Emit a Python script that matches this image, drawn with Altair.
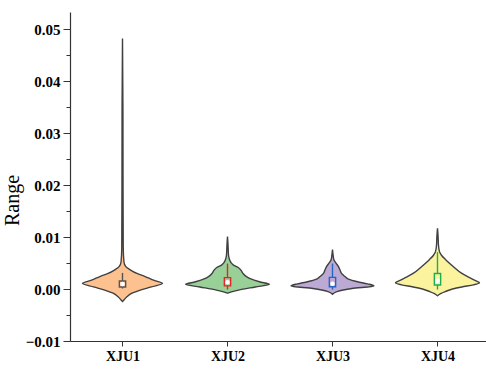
import altair as alt
import pandas as pd

categories = ["XJU1", "XJU2", "XJU3", "XJU4"]
violin_fill = ["#fdc08f", "#98d097", "#bcaad4", "#fbf39e"]
box_stroke = ["#555555", "#e0262a", "#2366c4", "#1fae4f"]

# violin outlines: value levels and half widths (in category units)
xju1_values = [-0.0024, -0.0021, -0.0015, -0.0008, -0.0002, 0.0004, 0.0011, 0.0017, 0.0024,
               0.0030, 0.0037, 0.0043, 0.0052, 0.0080, 0.0200, 0.0350, 0.0482]
xju1_width = [0.0, 0.014, 0.042, 0.090, 0.169, 0.276, 0.381, 0.295, 0.216,
              0.137, 0.073, 0.032, 0.014, 0.007, 0.005, 0.004, 0.0]

xju2_values = [-0.0008, -0.0006, -0.0002, 0.0004, 0.0009, 0.0014, 0.0019, 0.0024, 0.0030,
               0.0036, 0.0041, 0.0046, 0.0051, 0.0057, 0.0065, 0.0085, 0.0101]
xju2_width = [0.0, 0.029, 0.105, 0.264, 0.400, 0.305, 0.229, 0.181, 0.148,
              0.129, 0.105, 0.057, 0.033, 0.019, 0.010, 0.005, 0.0]

xju3_values = [-0.0010, -0.0005, 0.0001, 0.0006, 0.0010, 0.0014, 0.0019, 0.0024, 0.0030,
               0.0037, 0.0043, 0.0050, 0.0056, 0.0065, 0.0076]
xju3_width = [0.0, 0.042, 0.185, 0.395, 0.333, 0.238, 0.152, 0.119, 0.086,
              0.071, 0.057, 0.033, 0.014, 0.006, 0.0]

xju4_values = [-0.0013, -0.0009, -0.0005, 0.0000, 0.0004, 0.0008, 0.0012, 0.0016, 0.0021,
               0.0030, 0.0043, 0.0056, 0.0065, 0.0072, 0.0085, 0.0100, 0.0117]
xju4_width = [0.0, 0.029, 0.073, 0.143, 0.232, 0.343, 0.400, 0.362, 0.314,
              0.232, 0.152, 0.080, 0.038, 0.019, 0.009, 0.006, 0.0]

# box plot statistics
whisker_low = [0.0001, -0.0001, -0.0001, -0.0001]
q1 = [0.0004, 0.0006, 0.00044, 0.00077]
median = [0.00096, 0.0013, 0.0010, 0.0016]
q3 = [0.00154, 0.0022, 0.00225, 0.0030]
whisker_high = [0.0031, 0.0049, 0.0049, 0.0071]

y_ticks = [-0.01, -0.005, 0.0, 0.005, 0.01, 0.015, 0.02, 0.025, 0.03, 0.035, 0.04, 0.045, 0.05]
x_ticks = [1, 2, 3, 4]

rows = []
for i, (vals, wids) in enumerate([(xju1_values, xju1_width), (xju2_values, xju2_width),
                                  (xju3_values, xju3_width), (xju4_values, xju4_width)]):
    for v, w in zip(vals, wids):
        rows.append({"cat": categories[i], "idx": i + 1, "value": v, "hw": w})
violin_df = pd.DataFrame(rows)

box_df = pd.DataFrame({
    "cat": categories, "idx": [1, 2, 3, 4],
    "wlo": whisker_low, "q1": q1, "med": median, "q3": q3, "whi": whisker_high,
})

FONT = "Times New Roman, Liberation Serif, serif"
x_scale = alt.Scale(domain=[0.5, 4.462], nice=False, zero=False)
y_scale = alt.Scale(domain=[-0.01, 0.0533], nice=False, zero=False)
fill_scale = alt.Scale(domain=categories, range=violin_fill)
stroke_scale = alt.Scale(domain=categories, range=box_stroke)

minor_test = "abs(round(datum.value*1000)) % 10 == 5"

y_axis = alt.Axis(
    values=y_ticks,
    labelExpr=f"{minor_test} ? '' : format(datum.value, '.2f')",
    tickSize={"condition": {"test": minor_test, "value": 4}, "value": 7},
    labelFont=FONT, labelFontWeight="bold", labelFontSize=15, labelColor="black",
    labelPadding=3, domainColor="#333333", tickColor="#333333", domainWidth=1.2,
    grid=False, title="Range", titleFont=FONT, titleFontWeight="normal",
    titleFontSize=20, titleColor="black", titleX=-48, titleY=188,
    titleAngle=270, titleAlign="center", titleBaseline="bottom",
)
x_axis = alt.Axis(
    values=x_ticks, labelExpr="'XJU' + datum.value", tickSize=5,
    labelFont=FONT, labelFontWeight="bold", labelFontSize=14, labelColor="black",
    labelPadding=3, domainColor="#333333", tickColor="#333333", domainWidth=1.2,
    grid=False, title=None,
)

violins = alt.Chart(violin_df).transform_calculate(
    left="datum.idx - datum.hw", right="datum.idx + datum.hw"
).mark_area(
    orient="horizontal", interpolate="monotone", stroke="#404040", strokeWidth=1.4, fillOpacity=1
).encode(
    y=alt.Y("value:Q", scale=y_scale, axis=y_axis),
    x=alt.X("left:Q", scale=x_scale, axis=x_axis),
    x2="right:Q",
    fill=alt.Fill("cat:N", scale=fill_scale, legend=None),
)

whiskers = alt.Chart(box_df).mark_rule(strokeWidth=1.4).encode(
    x=alt.X("idx:Q", scale=x_scale, axis=x_axis),
    y=alt.Y("wlo:Q", scale=y_scale, axis=y_axis),
    y2="whi:Q",
    stroke=alt.Stroke("cat:N", scale=stroke_scale, legend=None),
)

boxes = alt.Chart(box_df).transform_calculate(
    bl="datum.idx - 0.03", br="datum.idx + 0.03"
).mark_rect(strokeWidth=1.4).encode(
    x=alt.X("bl:Q", scale=x_scale, axis=x_axis),
    x2="br:Q",
    y=alt.Y("q1:Q", scale=y_scale, axis=y_axis),
    y2="q3:Q",
    fill=alt.Fill("cat:N", scale=fill_scale, legend=None),
    stroke=alt.Stroke("cat:N", scale=stroke_scale, legend=None),
)

dots = alt.Chart(box_df).mark_circle(color="white", size=20, opacity=1).encode(
    x=alt.X("idx:Q", scale=x_scale, axis=x_axis),
    y=alt.Y("med:Q", scale=y_scale, axis=y_axis),
)

chart = alt.layer(violins, whiskers, boxes, dots).properties(
    width=416, height=329,
    padding={"left": 70, "top": 12, "right": 0, "bottom": 29},
    autosize=alt.AutoSizeParams(type="none"),
    background="white",
).configure_view(stroke=None)

chart.save("out.html", embed_options={"renderer": "svg", "actions": False})
